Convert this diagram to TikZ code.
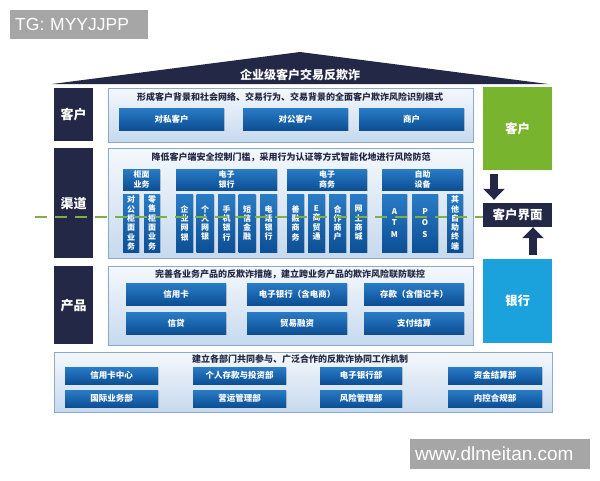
\documentclass[tikz,border=0pt]{standalone}
\usepackage{fontspec}
\setmainfont{Noto Sans CJK SC}
\newfontfamily\wmfont{Liberation Sans}
\usetikzlibrary{arrows.meta,shadows}

\definecolor{navy}{HTML}{232846}
\definecolor{btntop}{HTML}{2A7CC6}
\definecolor{btnbot}{HTML}{0C4F95}
\definecolor{panelline}{HTML}{8DA9C8}
\definecolor{paneltop}{HTML}{F4F8FC}
\definecolor{panelbot}{HTML}{C6D9EE}
\definecolor{custgreen}{HTML}{79B42F}
\definecolor{bankblue}{HTML}{1BA2DD}
\definecolor{dashgreen}{HTML}{7DB048}
\definecolor{wmgray}{HTML}{A6A6A6}

\begin{document}
\begin{tikzpicture}[
        x=1pt, y=-1pt,
        >=Stealth,
        roof/.style={fill=navy},
        roof_title/.style={text=white, font=\bfseries\fontsize{12}{14}\selectfont},
        row_label/.style={
            rectangle,
            fill=navy,
            anchor=north west,
            minimum width=39pt,
            inner sep=0pt,
            text=white,
            font=\bfseries\fontsize{13}{15}\selectfont
        },
        panel/.style={
            rectangle,
            draw=panelline,
            top color=paneltop,
            bottom color=panelbot,
            anchor=north west,
            inner sep=0pt,
            drop shadow={opacity=0.2, shadow xshift=1pt, shadow yshift=-1pt}
        },
        heading/.style={text=navy, font=\bfseries\fontsize{9}{10}\selectfont},
        btn/.style={
            rectangle,
            top color=btntop,
            bottom color=btnbot,
            inner sep=0pt,
            text=white,
            font=\bfseries\fontsize{8.5}{10}\selectfont,
            drop shadow={opacity=0.3, shadow xshift=1pt, shadow yshift=-1pt}
        },
        grp/.style={btn, minimum height=21pt, align=center, font=\bfseries\fontsize{8}{9.5}\selectfont},
        vbtn/.style={btn, minimum height=58pt, align=center, font=\bfseries\fontsize{8}{9.3}\selectfont},
        side_box/.style={
            rectangle,
            minimum width=69pt,
            inner sep=0pt,
            text=white,
            font=\bfseries\fontsize{12.5}{14}\selectfont
        },
        block_arrow/.style={-{Triangle[width=21pt,length=11pt]}, line width=8pt, navy},
        channel_line/.style={dashgreen, line width=2.2pt, dash pattern=on 12pt off 8pt},
        wm/.style={fill=wmgray, text=white, anchor=north west, inner xsep=5pt, align=left, font=\wmfont}
    ]

    \useasboundingbox[fill=white] (0,0) rectangle (600,480);

    % Watermarks
    \node[wm, minimum width=138pt, minimum height=29pt, text width=128pt, font=\wmfont\fontsize{17.5}{19}\selectfont] (wmTop) at (10,10) {TG: MYYJJPP};
    \node[wm, minimum width=180pt, minimum height=30pt, text width=170pt, font=\wmfont\fontsize{19}{21}\selectfont] (wmBottom) at (410,439) {www.dlmeitan.com};

    % =================================================
    % ROOF
    % =================================================
    \coordinate (roofL) at (52,84);
    \coordinate (roofTop) at (300,52);
    \coordinate (roofR) at (548,84);
    \fill[roof] (roofL) -- (roofTop) -- (roofR) -- cycle;
    \node[roof_title] (title) at (300,75) {企业级客户交易反欺诈};

    % =================================================
    % ROW LABELS AND PANELS
    % =================================================
    \node[row_label, minimum height=53pt] (lblCust) at (54,88) {客户};
    \node[row_label, minimum height=110pt] (lblChan) at (54,148) {渠道};
    \node[row_label, minimum height=78pt] (lblProd) at (54,266) {产品};

    \node[panel, minimum width=365pt, minimum height=54pt] (pCust) at (108,88) {};
    \node[panel, minimum width=365pt, minimum height=110pt] (pChan) at (108,148) {};
    \node[panel, minimum width=365pt, minimum height=79pt] (pProd) at (108,266) {};
    \node[panel, minimum width=498pt, minimum height=60pt] (pDept) at (54,352) {};

    % Customer row
    \node[heading] (hCust) at (290,97) {形成客户背景和社会网络、交易行为、交易背景的全面客户欺诈风险识别模式};
    \node[btn, minimum width=105pt, minimum height=22pt] (cPriv) at (171.5,119) {对私客户};
    \node[btn, minimum width=105pt, minimum height=22pt] (cCorp) at (295.5,119) {对公客户};
    \node[btn, minimum width=105pt, minimum height=22pt] (cMerch) at (411.5,119) {商户};

    % Channel row
    \node[heading] (hChan) at (291,157) {降低客户端安全控制门槛，采用行为认证等方式智能化地进行风险防范};
    \node[grp, minimum width=37pt] (gCounter) at (141.5,179.5) {柜面\\业务};
    \node[grp, minimum width=101pt] (gEbank) at (226.5,179.5) {电子\\银行};
    \node[grp, minimum width=80pt] (gEcom) at (327,179.5) {电子\\商务};
    \node[grp, minimum width=81pt] (gSelf) at (422.5,179.5) {自助\\设备};

    \node[vbtn, minimum width=16pt] (vCorpCounter) at (131,223) {对\\公\\柜\\面\\业\\务};
    \node[vbtn, minimum width=16pt] (vRetailCounter) at (152,223) {零\\售\\柜\\面\\业\\务};
    \node[vbtn, minimum width=17pt] (vCorpNet) at (184.5,223) {企\\业\\网\\银};
    \node[vbtn, minimum width=17pt] (vPersNet) at (205,223) {个\\人\\网\\银};
    \node[vbtn, minimum width=17pt] (vMobile) at (226.5,223) {手\\机\\银\\行};
    \node[vbtn, minimum width=17pt] (vSms) at (247,223) {短\\信\\金\\融};
    \node[vbtn, minimum width=17pt] (vPhone) at (268.5,223) {电\\话\\银\\行};
    \node[vbtn, minimum width=17pt] (vShanrong) at (295.5,223) {善\\融\\商\\务};
    \node[vbtn, minimum width=17pt] (vEtrade) at (316.5,223) {E\\商\\贸\\通};
    \node[vbtn, minimum width=17pt] (vPartner) at (337.5,223) {合\\作\\商\\户};
    \node[vbtn, minimum width=17pt] (vMall) at (358.5,223) {网\\上\\商\\城};
    \node[vbtn, minimum width=25pt, font=\bfseries\fontsize{8}{11.5}\selectfont] (vAtm) at (394.5,223) {A\\T\\M};
    \node[vbtn, minimum width=26pt, font=\bfseries\fontsize{8}{11.5}\selectfont] (vPos) at (425,223) {P\\O\\S};
    \node[vbtn, minimum width=16pt] (vOther) at (455,223) {其\\他\\自\\助\\终\\端};

    % Product row
    \node[heading] (hProd) at (290,274) {完善各业务产品的反欺诈措施，建立跨业务产品的欺诈风险联防联控};
    \node[btn, minimum width=100pt, minimum height=22pt] (prCard) at (176,294) {信用卡};
    \node[btn, minimum width=100pt, minimum height=22pt] (prEbank) at (297,294) {电子银行（含电商）};
    \node[btn, minimum width=100pt, minimum height=22pt] (prDeposit) at (414,294) {存款（含借记卡）};
    \node[btn, minimum width=100pt, minimum height=22pt] (prLoan) at (176,323) {信贷};
    \node[btn, minimum width=100pt, minimum height=22pt] (prTrade) at (297,323) {贸易融资};
    \node[btn, minimum width=100pt, minimum height=22pt] (prPay) at (414,323) {支付结算};

    % Department row
    \node[heading] (hDept) at (300,359) {建立各部门共同参与、广泛合作的反欺诈协同工作机制};
    \node[btn, minimum width=93pt, minimum height=17pt] (dCard) at (111.5,375.5) {信用卡中心};
    \node[btn, minimum width=93pt, minimum height=17pt] (dInvest) at (239.5,375.5) {个人存款与投资部};
    \node[btn, minimum width=82pt, minimum height=17pt] (dEbank) at (361,375.5) {电子银行部};
    \node[btn, minimum width=94pt, minimum height=17pt] (dFund) at (495,375.5) {资金结算部};
    \node[btn, minimum width=93pt, minimum height=17pt] (dIntl) at (111.5,398.5) {国际业务部};
    \node[btn, minimum width=93pt, minimum height=17pt] (dOps) at (239.5,398.5) {营运管理部};
    \node[btn, minimum width=82pt, minimum height=17pt] (dRisk) at (361,398.5) {风险管理部};
    \node[btn, minimum width=94pt, minimum height=17pt] (dCtrl) at (495,398.5) {内控合规部};

    % =================================================
    % RIGHT SIDE (Customer / Interface / Bank)
    % =================================================
    \node[side_box, fill=custgreen, minimum height=83pt] (sCust) at (517.5,128.5) {客户};
    \node[side_box, fill=navy, minimum height=24pt] (iface) at (517.5,215) {客户界面};
    \node[side_box, fill=bankblue, minimum height=84pt] (sBank) at (517.5,301) {银行};

    \draw[block_arrow, shorten <=4pt, shorten >=3pt] ([xshift=-23.5pt]sCust.south) -- ([xshift=-23.5pt]iface.north);
    \draw[block_arrow, shorten <=4pt] ([xshift=15.5pt]sBank.north) -- ([xshift=15.5pt]iface.south);

    % Channel boundary line
    \coordinate (dashStart) at (35,217);
    \draw[channel_line] (dashStart) -- (dashStart -| iface.west);

\end{tikzpicture}
\end{document}
